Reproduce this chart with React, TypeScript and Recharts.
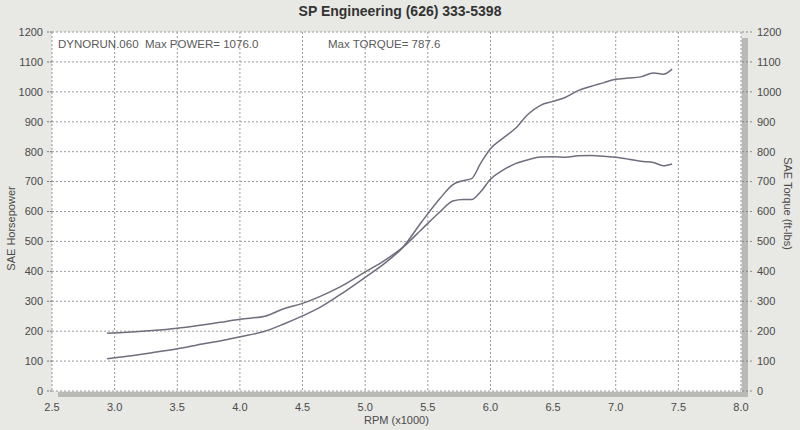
import React from "react"
import { LineChart, Line, XAxis, YAxis, CartesianGrid, Label } from "recharts"

// dyno sweep
const rpm = [
  2.94, 3.1, 3.3, 3.5, 3.7, 3.9, 4.0, 4.2, 4.35, 4.5, 4.65, 4.8, 5.0, 5.15, 5.3, 5.45, 5.6, 5.7, 5.78,
  5.85, 5.92, 6.0, 6.1, 6.2, 6.3, 6.4, 6.5, 6.6, 6.7, 6.8, 6.9, 7.0, 7.1, 7.2, 7.3, 7.38, 7.45,
]
const power = [
  108, 116, 128, 141, 157, 172, 181, 200, 224, 251, 282, 322, 380, 425, 480, 565, 645, 690, 703,
  710, 760, 810, 845, 878, 925, 955, 968, 982, 1004, 1018, 1030, 1042, 1046, 1050, 1063, 1059, 1076,
]
const torque = [
  193, 196, 202, 210, 221, 233, 240, 250, 275, 293, 318, 348, 398, 435, 480, 540, 600, 635, 640,
  640, 665, 708, 738, 760, 773, 782, 783, 781, 786, 787, 785, 781, 775, 768, 764, 753, 759,
]

const rpmTicks = [2.5, 3.0, 3.5, 4.0, 4.5, 5.0, 5.5, 6.0, 6.5, 7.0, 7.5, 8.0]
const valueTicks = [0, 100, 200, 300, 400, 500, 600, 700, 800, 900, 1000, 1100, 1200]
const rpmMinorTicks = Array.from({ length: 56 }, (_, i) => Math.round((2.5 + i * 0.1) * 10) / 10)
const valueMinorTicks = Array.from({ length: 61 }, (_, i) => i * 20)

const data = rpm.map((r, i) => ({ rpm: r, power: power[i], torque: torque[i] }))

const FONT = '"Liberation Sans", Arial, sans-serif'
const LINE = "#6e6e7e"
const tickStyle = { fontSize: 11, fill: "#4a4a4a", fontFamily: FONT }
const labelStyle = { fontSize: 11, fill: "#4a4a4a", fontFamily: FONT, textAnchor: "middle" as const }

export default function App() {
  return (
    <div
      style={{
        position: "absolute",
        left: 0,
        top: 0,
        width: 800,
        height: 430,
        background: "#e8e8e4",
        fontFamily: FONT,
        overflow: "hidden",
      }}
    >
      <div
        style={{
          position: "absolute",
          top: 3,
          width: 800,
          textAlign: "center",
          fontSize: 14,
          fontWeight: "bold",
          color: "#333",
        }}
      >
        SP Engineering (626) 333-5398
      </div>
      {/* shadow bands on the right and bottom of the plot */}
      <div style={{ position: "absolute", left: 742, top: 38, width: 6, height: 359, background: "#b9b9b5" }} />
      <div style={{ position: "absolute", left: 58, top: 392, width: 690, height: 5, background: "#b9b9b5" }} />
      <div style={{ position: "absolute", left: 0, top: 0 }}>
        <LineChart width={800} height={430} data={data} margin={{ top: 32, right: 9, bottom: 9, left: 8 }}>
          <CartesianGrid
            xAxisId="rpm"
            yAxisId="hp"
            fill="#ffffff"
            stroke="#9a9a9a"
            strokeDasharray="2 2"
          />
          <XAxis
            xAxisId="rpm"
            dataKey="rpm"
            type="number"
            domain={[2.5, 8]}
            ticks={rpmTicks}
            tickFormatter={(v: number) => v.toFixed(1)}
            tick={tickStyle}
            tickLine={false}
            axisLine={false}
            tickSize={0}
            tickMargin={12}
            height={30}
          >
            <Label value="RPM (x1000)" position="insideBottom" offset={-3} style={labelStyle} />
          </XAxis>
          <XAxis
            xAxisId="rpmMajor"
            dataKey="rpm"
            type="number"
            domain={[2.5, 8]}
            ticks={rpmTicks}
            mirror
            tick={false}
            tickSize={7}
            tickLine={{ stroke: "#777" }}
            axisLine={false}
          />
          <XAxis
            xAxisId="rpmMinor"
            dataKey="rpm"
            type="number"
            domain={[2.5, 8]}
            ticks={rpmMinorTicks}
            mirror
            tick={false}
            tickSize={4}
            tickLine={{ stroke: "#999" }}
            axisLine={false}
          />
          <YAxis
            yAxisId="hp"
            domain={[0, 1200]}
            ticks={valueTicks}
            tick={tickStyle}
            tickSize={5}
            tickMargin={4}
            tickLine={{ stroke: "#777", strokeDasharray: "2 1" }}
            axisLine={false}
            width={44}
          >
            <Label value="SAE Horsepower" angle={-90} position="insideLeft" offset={3} dy={17} style={labelStyle} />
          </YAxis>
          <YAxis
            yAxisId="hpMinor"
            domain={[0, 1200]}
            ticks={valueMinorTicks}
            mirror
            tick={false}
            tickSize={3}
            tickLine={{ stroke: "#999" }}
            axisLine={false}
          />
          <YAxis
            yAxisId="tq"
            orientation="right"
            domain={[0, 1200]}
            ticks={valueTicks}
            tick={tickStyle}
            tickSize={11}
            tickMargin={5}
            tickLine={{ stroke: "#888", strokeDasharray: "2 2" }}
            axisLine={false}
            width={50}
          >
            <Label value="SAE Torque (ft-lbs)" angle={90} position="insideRight" offset={3} dy={-8} style={labelStyle} />
          </YAxis>
          <YAxis
            yAxisId="tqMinor"
            orientation="right"
            domain={[0, 1200]}
            ticks={valueMinorTicks}
            mirror
            tick={false}
            tickSize={4}
            tickLine={{ stroke: "#999" }}
            axisLine={false}
          />
          <Line
            xAxisId="rpm"
            yAxisId="hp"
            dataKey="power"
            type="monotone"
            stroke={LINE}
            strokeWidth={1.5}
            dot={false}
            isAnimationActive={false}
          />
          <Line
            xAxisId="rpm"
            yAxisId="tq"
            dataKey="torque"
            type="monotone"
            stroke={LINE}
            strokeWidth={1.5}
            dot={false}
            isAnimationActive={false}
          />
        </LineChart>
      </div>
      <div style={{ position: "absolute", left: 58, top: 38, fontSize: 11.5, color: "#5a5a5a", whiteSpace: "pre" }}>
        {"DYNORUN.060  Max POWER= 1076.0"}
      </div>
      <div style={{ position: "absolute", left: 328, top: 38, fontSize: 11.5, color: "#5a5a5a" }}>
        Max TORQUE= 787.6
      </div>
    </div>
  )
}
